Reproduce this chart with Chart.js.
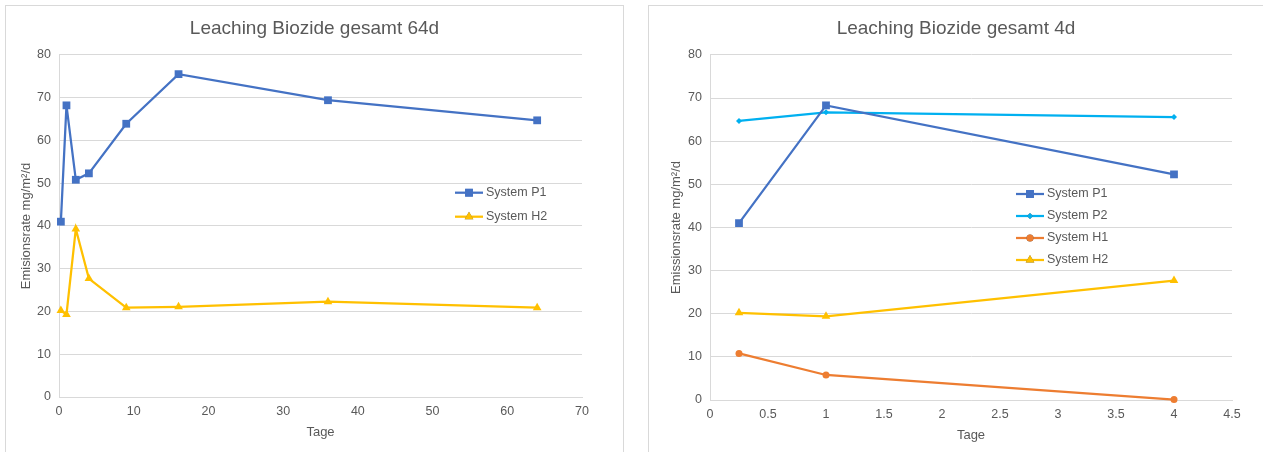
<!DOCTYPE html>
<html>
<head>
<meta charset="utf-8">
<script src="https://cdn.jsdelivr.net/npm/chart.js@4"></script>
<style>
  body { margin: 0; background: #fff; width: 1263px; height: 452px; overflow: hidden; position: relative; }
  .panel { position: absolute; top: 5px; height: 460px; border: 1px solid #d9d9d9; box-sizing: border-box; background: #fff; }
  #p1 { left: 5px; width: 619px; }
  #p2 { left: 648px; width: 620px; }
  canvas { position: absolute; left: 0; top: 0; }
</style>
</head>
<body>
<div class="panel" id="p1"><canvas id="c1" width="617" height="446"></canvas></div>
<div class="panel" id="p2"><canvas id="c2" width="614" height="446"></canvas></div>
<script>
// 64 Tage
const tage64 = [0.25, 1, 2.25, 4, 9, 16, 36, 64];
const p1_64 = [41.0, 68.2, 50.8, 52.3, 63.9, 75.5, 69.4, 64.7];
const h2_64 = [20.2, 19.3, 39.3, 27.7, 20.9, 21.1, 22.3, 20.9];

// 4 Tage
const tage4 = [0.25, 1, 4];
const p1_4 = [41.0, 68.3, 52.3];
const p2_4 = [64.7, 66.7, 65.6];
const h1_4 = [10.8, 5.8, 0.1];
const h2_4 = [20.2, 19.4, 27.7];

const grey = "#595959";
const gridGrey = "#d9d9d9";
const font = "'Liberation Sans', Arial, sans-serif";

const pts = (xs, ys) => xs.map((x, i) => ({ x: x, y: ys[i] }));

const ds = (label, xs, ys, color, style, r) => ({
  label: label,
  data: pts(xs, ys),
  borderColor: color,
  backgroundColor: color,
  borderWidth: 2.25,
  pointStyle: style,
  pointRadius: r,
  pointBorderWidth: 0,
  tension: 0,
  clip: false
});

// legend drawn inside the plot area, like in Excel
const innerLegend = {
  id: "innerLegend",
  afterDraw(chart, args, opts) {
    const ctx = chart.ctx;
    ctx.save();
    ctx.font = "12.5px " + font;
    ctx.textBaseline = "middle";
    chart.data.datasets.forEach((d, i) => {
      const x = opts.x, y = opts.y + i * opts.gap;
      ctx.strokeStyle = d.borderColor;
      ctx.lineWidth = 2.25;
      ctx.beginPath();
      ctx.moveTo(x, y);
      ctx.lineTo(x + 28, y);
      ctx.stroke();
      Chart.helpers.drawPoint(ctx, { pointStyle: d.pointStyle, radius: d.pointRadius, borderWidth: 0 }, x + 14, y);
      ctx.fillStyle = d.borderColor;
      ctx.fill();
      ctx.fillStyle = grey;
      ctx.fillText(d.label, x + 31, y);
    });
    ctx.restore();
  }
};

function makeChart(id, datasets, title, yTitle, xMax, xStep, yW, yTitlePad, rightW, padBottom, legend) {
  new Chart(document.getElementById(id), {
    type: "line",
    data: { datasets: datasets },
    plugins: [innerLegend],
    options: {
      responsive: false,
      animation: false,
      layout: { padding: { left: 0, right: 0, top: 0, bottom: padBottom } },
      plugins: {
        legend: { display: false },
        tooltip: { enabled: false },
        title: {
          display: true,
          text: title,
          color: grey,
          font: { family: font, size: 19, weight: "normal" },
          padding: { top: 11, bottom: 15.1 }
        },
        innerLegend: legend
      },
      scales: {
        x: {
          type: "linear",
          min: 0,
          max: xMax,
          ticks: { stepSize: xStep, color: grey, font: { family: font, size: 12.5 }, padding: 7, maxRotation: 0,
                   callback: v => String(v) },
          grid: { display: false, drawTicks: false },
          border: { color: gridGrey, width: 1 },
          title: { display: true, text: "Tage", color: grey, font: { family: font, size: 13 }, padding: { top: 4 } },
          afterFit: s => { s.height = 47; }
        },
        y: {
          min: 0,
          max: 80,
          ticks: { stepSize: 10, color: grey, font: { family: font, size: 12.5 }, padding: 8 },
          grid: { color: gridGrey, drawTicks: false },
          border: { color: gridGrey, width: 1 },
          title: { display: true, text: yTitle, color: grey, font: { family: font, size: 13 }, padding: { top: yTitlePad, bottom: 0 } },
          afterFit: s => { s.width = yW; }
        },
        // empty axis on the right, only to leave room like the Excel plot area
        yr: {
          position: "right",
          display: true,
          ticks: { display: false },
          grid: { display: false, drawTicks: false },
          border: { display: false },
          afterFit: s => { s.width = rightW; }
        }
      }
    }
  });
}

makeChart("c1", [
  ds("System P1", tage64, p1_64, "#4472c4", "rect", 5.5),
  ds("System H2", tage64, h2_64, "#ffc000", "triangle", 5)
], "Leaching Biozide gesamt 64d", "Emisionsrate mg/m²/d", 70, 10, 53, 13, 41, 8,
  { x: 449, y: 186.7, gap: 24 });

makeChart("c2", [
  ds("System P1", tage4, p1_4, "#4472c4", "rect", 5.5),
  ds("System P2", tage4, p2_4, "#00b0f0", "rectRot", 3),
  ds("System H1", tage4, h1_4, "#ed7d31", "circle", 3.5),
  ds("System H2", tage4, h2_4, "#ffc000", "triangle", 5)
], "Leaching Biozide gesamt 4d", "Emissionsrate mg/m²/d", 4.5, 0.5, 61, 20, 31, 5,
  { x: 367, y: 188, gap: 22 });
</script>
</body>
</html>
